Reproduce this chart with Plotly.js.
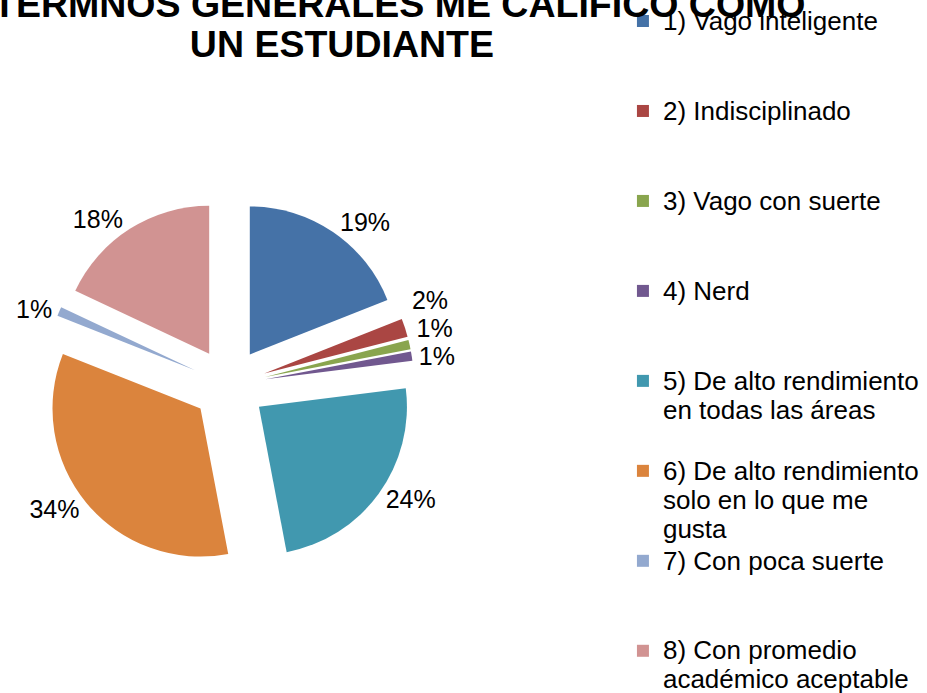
<!DOCTYPE html>
<html>
<head>
<meta charset="utf-8">
<script src="https://cdn.plot.ly/plotly-3.0.1.min.js"></script>
<style>
html,body{margin:0;padding:0;background:#fff;}
path.textline{stroke-opacity:0 !important;}
</style>
</head>
<body>
<div id="chart" style="width:927px;height:693px;"></div>
<script>
const titleLines = ["EN TERMNOS GENERALES ME CALIFICO COMO", "UN ESTUDIANTE"];
const categories = [
  "1) Vago inteligente",
  "2) Indisciplinado",
  "3) Vago con suerte",
  "4) Nerd",
  "5) De alto rendimiento<br>en todas las áreas",
  "6) De alto rendimiento<br>solo en lo que me<br>gusta",
  "7) Con poca suerte",
  "8) Con promedio<br>académico aceptable"
];
const values = [19, 2, 1, 1, 24, 34, 1, 18];
const colors = ["#4572A7", "#AA4643", "#89A54E", "#71588F", "#4198AF", "#DB843D", "#93A9CF", "#D19392"];

// legend entries: larger glyphs than the base font (tighter line spacing, as in the original),
// plus blank lines so that every entry takes three lines
const legendGlyph = 26;
const legendPad = [2, 2, 2, 2, 1, 0, 2, 0];
const labels = categories.map((c, i) =>
  c.split("<br>").map(s => '<span style="font-size:' + legendGlyph + 'px">' + s + '</span>').join("<br>")
  + "<br> ".repeat(legendPad[i]));

// title: second line carries trailing non-breaking spaces so the two lines sit offset as in the original
const titleGlyph = 37.5;
const titleTail = ["", "\u00A0\u00A0\u00A0\u00A0\u00A0"];
const titleHtml = titleLines.map((s, i) => '<b><span style="font-size:' + titleGlyph + 'px">' + s + titleTail[i] + '</span></b>').join("<br>");

const trace = {
  type: "pie",
  labels: labels,
  values: values,
  sort: false,
  direction: "clockwise",
  rotation: 0,
  pull: values.map(() => 0.25),
  marker: {colors: colors, line: {width: 0}},
  textposition: "outside",
  texttemplate: "%{percent:.0%}",
  textfont: {family: "Liberation Sans, Arial, sans-serif", size: 25, color: "#000"},
  domain: {x: [44/927, 414/927], y: [1 - 570/693, 1 - 200/693]},
  hoverinfo: "percent"
};

const layout = {
  width: 927,
  height: 693,
  margin: {l: 0, r: 0, t: 0, b: 0},
  paper_bgcolor: "#fff",
  plot_bgcolor: "#fff",
  font: {family: "Liberation Sans, Arial, sans-serif", color: "#000"},
  title: {
    text: titleHtml,
    font: {family: "Liberation Sans, Arial, sans-serif", size: 30.8, color: "#000"},
    xref: "container", yref: "container",
    x: 368/927, xanchor: "center",
    y: 0.976, yanchor: "bottom"
  },
  showlegend: true,
  legend: {
    x: 0.672, xanchor: "left",
    y: 1, yanchor: "top",
    valign: "top",
    font: {family: "Liberation Sans, Arial, sans-serif", size: 22.3, color: "#000"},
    bgcolor: "rgba(0,0,0,0)",
    borderwidth: 0
  }
};

Plotly.newPlot("chart", [trace], layout, {displayModeBar: false, staticPlot: true});
</script>
</body>
</html>
